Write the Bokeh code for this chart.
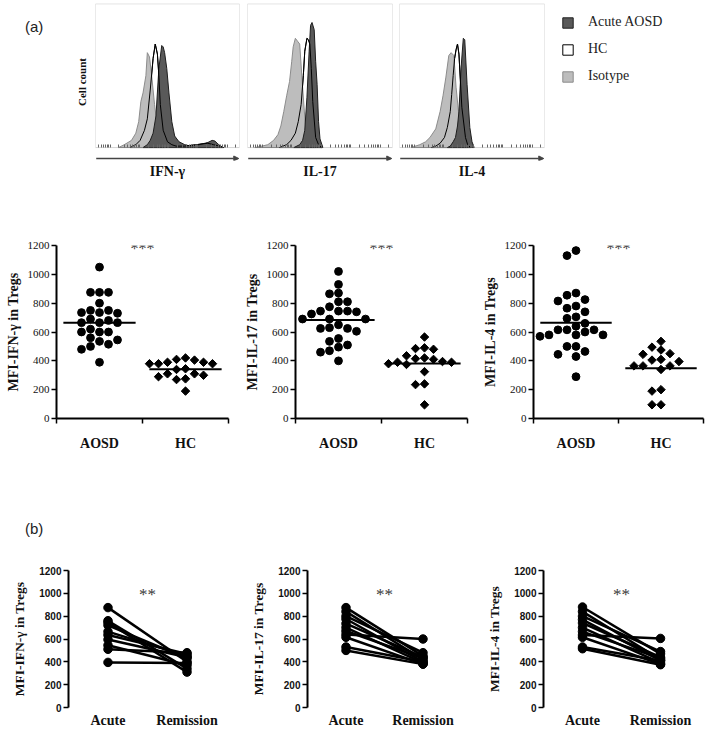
import numpy as np
from bokeh.plotting import figure
from bokeh.models import (FixedTicker, Range1d, Legend, LegendItem, Arrow,
                          NormalHead, Div, Label, LinearAxis, BoxAnnotation)
from bokeh.layouts import column, row
from bokeh.embed import file_html
from bokeh.resources import INLINE

SERIF = "Liberation Serif"
SANS = "Liberation Sans"

# ---------------- (a) top: flow-cytometry histograms ----------------
# x: fluorescence channel on the displayed log scale (0-100), y: % of max height
IFNG_ISO_X = [16, 20, 25, 28, 30, 31.5, 33, 35, 36, 37.5, 39, 41, 43, 45, 48]
IFNG_ISO_Y = [0, 2, 5, 10, 18, 32, 38, 50, 66, 63, 50, 30, 14, 5, 0]
IFNG_HC_X = [24, 28, 31, 34, 36, 38, 40, 41.5, 43, 44, 45, 47, 50, 53, 56, 62, 70, 78, 82, 86, 89]
IFNG_HC_Y = [0, 2, 5, 12, 20, 40, 62, 72, 65, 50, 30, 12, 4, 2, 1, 1, 2, 3, 2, 1, 0]
IFNG_AC_X = [33, 36, 38, 40, 42, 44, 46, 47, 48, 49.5, 51, 53, 55, 58, 62, 66, 70, 74, 78, 81, 83, 85, 87, 89]
IFNG_AC_Y = [0, 2, 5, 10, 22, 55, 71, 70, 66, 55, 38, 18, 8, 4, 2, 1, 1.5, 2.5, 3.5, 5, 4.5, 2.5, 1, 0]

IL17_ISO_X = [5, 10, 14, 18, 21, 23, 25, 27, 29, 30.5, 31.5, 33, 34.5, 36, 38, 40, 42, 44, 47]
IL17_ISO_Y = [0, 1, 2, 5, 9, 15, 25, 36, 46, 60, 70, 76, 74, 72, 42, 14, 6, 2, 0]
IL17_HC_X = [22, 27, 30, 33, 35, 37, 38.5, 39.5, 41, 42, 43, 44, 45, 47, 49, 51]
IL17_HC_Y = [0, 2, 5, 10, 18, 30, 50, 67, 76, 75, 72, 55, 32, 7, 2, 0]
IL17_AC_X = [32, 36, 38, 39.5, 41, 42.5, 43.5, 44.5, 46, 47, 48, 49, 50, 52]
IL17_AC_Y = [0, 2, 5, 12, 35, 67, 85, 87, 82, 60, 44, 18, 6, 0]

IL4_ISO_X = [8, 14, 18, 21, 25, 28, 30, 32, 34, 35.6, 37.5, 39, 41, 42, 44.4, 46.6]
IL4_ISO_Y = [0, 2, 4, 7, 13, 25, 36, 49, 64, 66, 64, 42, 22, 14, 2, 0]
IL4_HC_X = [22, 25, 28, 31, 33, 35, 36, 37, 38, 39, 40, 41, 43, 45.5, 47, 49]
IL4_HC_Y = [0, 1, 3, 7, 14, 25, 37, 50, 62, 68, 72, 65, 28, 7, 2, 0]
IL4_AC_X = [33, 35, 37, 38.6, 40, 41, 42.5, 44, 45, 46.6, 48.5, 50, 51.5]
IL4_AC_Y = [0, 1, 4, 7, 15, 25, 56, 76, 75, 44, 14, 4, 0]

HIST_LABELS = ["IFN-\u03b3", "IL-17", "IL-4"]
LEGEND_LABELS = ["Acute AOSD", "HC", "Isotype"]

# ---------------- (a) bottom: MFI in Tregs, AOSD vs HC ----------------
GROUPS_A = ["AOSD", "HC"]
AOSD_IFNG = [1050, 875, 875, 875, 800, 750, 735, 730, 735, 750, 690, 680, 665, 665, 665,
             620, 600, 600, 600, 545, 535, 560, 500, 515, 480, 390]
HC_IFNG = [410, 420, 405, 390, 380, 380, 380, 390, 345, 340, 310, 310, 300, 290, 275, 270, 190]
AOSD_IL17 = [1020, 930, 870, 865, 810, 810, 775, 745, 740, 725, 745, 745, 690, 690, 690,
             650, 625, 605, 625, 630, 555, 510, 535, 495, 460, 470, 400]
HC_IL17 = [565, 490, 480, 485, 415, 395, 390, 420, 435, 390, 410, 375, 380, 325, 240, 235, 95]
AOSD_IL4 = [1165, 1130, 870, 855, 825, 815, 780, 765, 740, 705, 695, 660, 640, 615, 615,
            600, 615, 580, 580, 570, 580, 500, 500, 465, 445, 430, 290]
HC_IL4 = [535, 495, 475, 450, 445, 405, 410, 395, 365, 365, 340, 365, 190, 200, 95, 95]
MEAN_IFNG = [665, 342]
MEAN_IL17 = [683, 382]
MEAN_IL4 = [664, 348]
Y_TICKS = [0, 200, 400, 600, 800, 1000, 1200]
YLABELS = ["MFI-IFN-\u03b3 in Tregs", "MFI-IL-17 in Tregs", "MFI-IL-4 in Tregs"]
SIG_A = "***"
SIG_B = "**"

# ---------------- (b): paired acute vs remission ----------------
GROUPS_B = ["Acute", "Remission"]
ACUTE_IFNG = [875, 760, 745, 720, 665, 635, 595, 545, 510, 395]
REM_IFNG = [400, 340, 310, 430, 450, 470, 440, 370, 480, 390]
ACUTE_IL17 = [875, 840, 800, 775, 735, 700, 670, 640, 615, 530, 500]
REM_IL17 = [450, 420, 480, 400, 440, 390, 430, 600, 380, 400, 380]
ACUTE_IL4 = [880, 840, 800, 770, 740, 700, 665, 635, 615, 530, 515]
REM_IL4 = [470, 420, 490, 410, 440, 390, 430, 605, 380, 410, 375]

DARK = "#595959"
LIGHT = "#bdbdbd"
BOX = "#707070"


def base_fig(width, height, xr, yr, bl, br, bt, bb, xaxis=True, yaxis=True):
    p = figure(width=width, height=height, x_range=xr, y_range=yr,
               output_backend="svg", toolbar_location=None,
               min_border_left=bl, min_border_right=br,
               min_border_top=bt, min_border_bottom=bb,
               x_axis_location="below" if xaxis else None,
               y_axis_location="left" if yaxis else None)
    p.grid.visible = False
    p.background_fill_color = "white"
    p.border_fill_color = "white"
    return p


# log-decade tick marks for the histogram axis
DEC0, DEC = 10.2, 20.3
HTICKS = [DEC0 + DEC * (k + np.log10(j)) for k in range(-1, 5) for j in range(1, 10)]
HTICKS = [m for m in HTICKS if 0 < m < 100]

H_X0, H_X1, H_Y0, H_Y1 = 0, 100, 0, 100     # histogram box (channel, % height)
H_LO = -9.0                                  # room for the channel arrow under the box
H_ARROW = -7.6


def hist_fig(curves, label, width, bl, br, ylabel=None):
    H = 188
    bt, bb = 3, 28
    p = base_fig(width, H, Range1d(H_X0, H_X1), Range1d(H_LO, H_Y1 + 0.2), bl, br, bt, bb,
                 yaxis=ylabel is not None)
    p.outline_line_color = None
    (iso_x, iso_y), (hc_x, hc_y), (ac_x, ac_y) = curves
    p.patch(hc_x, hc_y, fill_color="white", line_color="black", line_width=1)
    p.patch(iso_x, iso_y, fill_color=LIGHT, line_color="#8c8c8c", line_width=1)
    p.patch(ac_x, ac_y, fill_color=DARK, line_color="#1e1e1e", line_width=1)
    p.line(hc_x, hc_y, line_color="black", line_width=1)
    p.add_layout(BoxAnnotation(left=H_X0, right=H_X1, bottom=H_Y0, top=H_Y1,
                               fill_alpha=0, line_color=BOX, line_width=1))
    # tick marks sitting on the bottom of the box
    tick_ax = LinearAxis(ticker=FixedTicker(ticks=[], minor_ticks=HTICKS),
                         fixed_location=H_Y0, axis_line_color=None,
                         major_tick_line_color=None, major_tick_in=0, major_tick_out=0,
                         minor_tick_in=3, minor_tick_out=0,
                         minor_tick_line_color="#666666")
    p.add_layout(tick_ax, "below")
    # channel arrow
    p.add_layout(Arrow(end=NormalHead(size=5, fill_color="#444444", line_color="#444444"),
                       x_start=H_X0 + 0.5, x_end=H_X1 - 0.5, y_start=H_ARROW, y_end=H_ARROW,
                       line_color="#444444", line_width=1.5))
    ax = p.xaxis[0]
    ax.ticker = FixedTicker(ticks=[])
    ax.axis_line_color = None
    ax.major_tick_line_color = None
    ax.minor_tick_line_color = None
    ax.major_tick_out = 0
    ax.major_tick_in = 0
    ax.axis_label = label
    ax.axis_label_text_font = SERIF
    ax.axis_label_text_font_style = "bold"
    ax.axis_label_text_font_size = "14px"
    ax.axis_label_text_color = "#111111"
    ax.axis_label_standoff = 3
    if ylabel is not None:
        yax = p.yaxis[0]
        yax.ticker = FixedTicker(ticks=[])
        yax.axis_line_color = None
        yax.major_tick_line_color = None
        yax.minor_tick_line_color = None
        yax.axis_label = ylabel
        yax.axis_label_text_font = SERIF
        yax.axis_label_text_font_style = "bold"
        yax.axis_label_text_font_size = "11px"
        yax.axis_label_text_color = "#111111"
        yax.axis_label_standoff = 8
    return p


def legend_fig(width, height, curves):
    p = base_fig(width, height, Range1d(H_X0, H_X1), Range1d(H_Y0, H_Y1), 0, 0, 0, 0,
                 xaxis=False, yaxis=False)
    p.outline_line_color = None
    (iso_x, iso_y), (hc_x, hc_y), (ac_x, ac_y) = curves
    r_ac = p.patch(ac_x, ac_y, fill_color=DARK, line_color="#1e1e1e", line_width=1,
                   visible=False)
    r_hc = p.patch(hc_x, hc_y, fill_color="white", line_color="black", line_width=1,
                   visible=False)
    r_iso = p.patch(iso_x, iso_y, fill_color=LIGHT, line_color="#8c8c8c", line_width=1,
                    visible=False)
    leg = Legend(items=[LegendItem(label=LEGEND_LABELS[0], renderers=[r_ac]),
                        LegendItem(label=LEGEND_LABELS[1], renderers=[r_hc]),
                        LegendItem(label=LEGEND_LABELS[2], renderers=[r_iso])],
                 location=(13, 76), orientation="vertical", click_policy="none",
                 border_line_color=None, background_fill_alpha=0,
                 inactive_fill_alpha=0,
                 glyph_width=13, glyph_height=13, label_standoff=14,
                 spacing=11, padding=0, margin=0, label_height=13,
                 label_text_font=SERIF, label_text_font_size="14px",
                 label_text_color="#222222")
    p.add_layout(leg)
    return p


def style_yaxis(ax, ylabel, tick_font, tick_size, tick_style, lab_size, lab_standoff):
    ax.ticker = FixedTicker(ticks=Y_TICKS)
    ax.axis_line_width = 2
    ax.axis_line_color = "black"
    ax.major_tick_out = 5
    ax.major_tick_in = 0
    ax.major_tick_line_width = 1.5
    ax.minor_tick_line_color = None
    ax.major_label_text_font = tick_font
    ax.major_label_text_font_size = tick_size
    ax.major_label_text_font_style = tick_style
    ax.major_label_text_color = "#111111"
    ax.major_label_standoff = 2
    ax.axis_label = ylabel
    ax.axis_label_text_font = SERIF
    ax.axis_label_text_font_style = "bold"
    ax.axis_label_text_font_size = lab_size
    ax.axis_label_text_color = "#111111"
    ax.axis_label_standoff = lab_standoff


def swarm(vals, center, px_x, px_y, step=9.0, dmin=8.3):
    vals = np.asarray(vals, dtype=float)
    order = np.argsort(-vals, kind="stable")
    placed = []
    xs = np.zeros(len(vals))
    seq = [0] + [s * k for k in range(1, 10) for s in (-1, 1)]
    for i in order:
        yp = vals[i] * px_y
        for k in seq:
            xp = k * step
            if all((xp - a) ** 2 + (yp - b) ** 2 >= dmin ** 2 for a, b in placed):
                break
        placed.append((xp, yp))
        xs[i] = center + xp / px_x
    return xs


def dot_fig(aosd, hc, means, ylabel, width, bl, br):
    H = 282
    bt, bb = 57, 52
    p = base_fig(width, H, Range1d(0, 2), Range1d(0, 1200), bl, br, bt, bb)
    p.outline_line_color = None
    fw = width - bl - br
    px_x = fw / 2.0
    px_y = (H - bt - bb) / 1200.0
    cats = [0.5, 1.5]
    xa = swarm(aosd, cats[0], px_x, px_y)
    xh = swarm(hc, cats[1], px_x, px_y)
    p.scatter(xa, aosd, marker="circle", size=7.8, fill_color="black", line_color="black")
    p.scatter(xh, hc, marker="square", angle=np.pi / 4, size=6.0,
              fill_color="black", line_color="black")
    hw = 0.42
    p.segment(x0=[c - hw for c in cats], x1=[c + hw for c in cats], y0=means, y1=means,
              line_color="black", line_width=2)
    xax = p.xaxis[0]
    xax.ticker = FixedTicker(ticks=cats, minor_ticks=[0, 1, 2])
    xax.major_label_overrides = {cats[0]: GROUPS_A[0], cats[1]: GROUPS_A[1]}
    xax.axis_line_width = 2
    xax.axis_line_color = "black"
    xax.major_tick_line_color = None
    xax.major_tick_out = 5
    xax.major_tick_in = 0
    xax.minor_tick_line_color = "black"
    xax.minor_tick_line_width = 1.5
    xax.minor_tick_out = 5
    xax.minor_tick_in = 0
    xax.major_label_text_font = SERIF
    xax.major_label_text_font_style = "bold"
    xax.major_label_text_font_size = "14px"
    xax.major_label_text_color = "#111111"
    xax.major_label_standoff = 12
    style_yaxis(p.yaxis[0], ylabel, SERIF, "11px", "normal", "14px", 4)
    p.add_layout(Label(x=sum(cats) / 2, y=1180, text=SIG_A, text_align="center",
                       text_baseline="alphabetic", text_font=SERIF,
                       text_font_size="16px", text_color="#3a3a3a"))
    return p


def pair_fig(acute, rem, ylabel, width, bl, br):
    H = 190
    bt, bb = 30, 23
    p = base_fig(width, H, Range1d(-0.5, 1.5), Range1d(0, 1200), bl, br, bt, bb)
    p.outline_line_color = None
    xs = [[0, 1] for _ in acute]
    ys = [[a, r] for a, r in zip(acute, rem)]
    p.multi_line(xs=xs, ys=ys, line_color="black", line_width=2.5)
    p.scatter([0] * len(acute), acute, marker="circle", size=8.5, fill_color="black",
              line_color="black")
    p.scatter([1] * len(rem), rem, marker="circle", size=8.5, fill_color="black",
              line_color="black")
    xax = p.xaxis[0]
    xax.ticker = FixedTicker(ticks=[0, 1])
    xax.major_label_overrides = {0: GROUPS_B[0], 1: GROUPS_B[1]}
    xax.axis_line_color = None
    xax.major_tick_line_color = None
    xax.minor_tick_line_color = None
    xax.major_tick_out = 0
    xax.major_tick_in = 0
    xax.major_label_text_font = SERIF
    xax.major_label_text_font_style = "bold"
    xax.major_label_text_font_size = "14px"
    xax.major_label_text_color = "#111111"
    xax.major_label_standoff = 5
    style_yaxis(p.yaxis[0], ylabel, SANS, "10px", "bold", "13.5px", 9)
    p.add_layout(Label(x=0.5, y=990, text=SIG_B, text_align="center",
                       text_baseline="alphabetic", text_font=SERIF,
                       text_font_size="17px", text_color="#3a3a3a"))
    return p


def panel_div(txt, width, height, pad_top, pad_left):
    return Div(text=f'<div style="font-family:{SANS};font-size:15px;color:#222;'
                    f'padding-top:{pad_top}px;padding-left:{pad_left}px;">{txt}</div>',
               width=width, height=height, margin=0)


IFNG_CURVES = [(IFNG_ISO_X, IFNG_ISO_Y), (IFNG_HC_X, IFNG_HC_Y), (IFNG_AC_X, IFNG_AC_Y)]
IL17_CURVES = [(IL17_ISO_X, IL17_ISO_Y), (IL17_HC_X, IL17_HC_Y), (IL17_AC_X, IL17_AC_Y)]
IL4_CURVES = [(IL4_ISO_X, IL4_ISO_Y), (IL4_HC_X, IL4_HC_Y), (IL4_AC_X, IL4_AC_Y)]

# ---- row 1: histograms ----
div_a = panel_div("(a)", 68, 188, 16, 25)
h1 = hist_fig(IFNG_CURVES, HIST_LABELS[0], 175, 27, 4, ylabel="Cell count")
h2 = hist_fig(IL17_CURVES, HIST_LABELS[1], 153, 4, 4)
h3 = hist_fig(IL4_CURVES, HIST_LABELS[2], 152, 3, 4)
lg = legend_fig(157, 188, IL4_CURVES)
row1 = row(div_a, h1, h2, h3, lg, spacing=0)

# ---- row 2: dot plots ----
d1 = dot_fig(AOSD_IFNG, HC_IFNG, MEAN_IFNG, YLABELS[0], 236, 56, 8)
d2 = dot_fig(AOSD_IL17, HC_IL17, MEAN_IL17, YLABELS[1], 236, 59, 5)
d3 = dot_fig(AOSD_IL4, HC_IL4, MEAN_IL4, YLABELS[2], 233, 61, 2)
row2 = row(d1, d2, d3, spacing=0)

# ---- row 3: (b) label ----
div_b = panel_div("(b)", 705, 70, 48, 25)

# ---- row 4: paired plots ----
b1 = pair_fig(ACUTE_IFNG, REM_IFNG, YLABELS[0], 238, 68, 12)
b2 = pair_fig(ACUTE_IL17, REM_IL17, YLABELS[1], 234, 69, 11)
b3 = pair_fig(ACUTE_IL4, REM_IL4, YLABELS[2], 233, 71, 6)
row4 = row(b1, b2, b3, spacing=0)

layout = column(row1, row2, div_b, row4, spacing=0)

with open("out.html", "w") as f:
    f.write(file_html(layout, INLINE))
